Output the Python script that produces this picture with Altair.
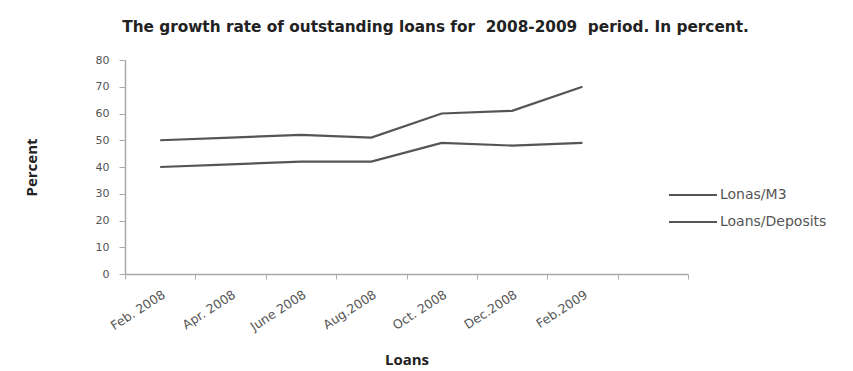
import altair as alt
import pandas as pd

months = ["Feb. 2008", "Apr. 2008", "June 2008", "Aug.2008", "Oct. 2008", "Dec.2008", "Feb.2009"]
axis_slots = months + [" "]
lonas_m3 = [40, 41, 42, 42, 49, 48, 49]
loans_deposits = [50, 51, 52, 51, 60, 61, 70]
series_names = ["Lonas/M3", "Loans/Deposits"]
title_text = "The growth rate of outstanding loans for\u00a0\u00a02008-2009\u00a0\u00a0period. In percent."

rows = []
for name, vals in zip(series_names, [lonas_m3, loans_deposits]):
    for m, v in zip(months, vals):
        rows.append({"month": m, "value": v, "series": name})
df = pd.DataFrame(rows)

chart = alt.Chart(df).mark_line(strokeWidth=2.2).encode(
    x=alt.X("month:N", sort=axis_slots,
            scale=alt.Scale(domain=axis_slots, paddingInner=0, paddingOuter=0),
            axis=alt.Axis(title="Loans", labelAngle=-33, tickBand="extent",
                          labelFont="DejaVu Sans", labelFontSize=12.5, labelColor="#555",
                          domainColor="#aaa", domainWidth=1.5, tickColor="#aaa",
                          tickSize=5, labelPadding=9,
                          titleFont="Open Sans", titleFontSize=15, titleFontWeight="bold",
                          titleColor="#222", titlePadding=20)),
    y=alt.Y("value:Q", scale=alt.Scale(domain=[0, 80]),
            axis=alt.Axis(title="Percent", values=list(range(0, 81, 10)), grid=False,
                          labelFont="DejaVu Sans", labelFontSize=11, labelColor="#555",
                          domainColor="#aaa", domainWidth=1.5, tickColor="#aaa",
                          tickSize=6, labelPadding=10,
                          titleFont="Open Sans", titleFontSize=15, titleFontWeight="bold",
                          titleColor="#222", titlePadding=56)),
    color=alt.Color("series:N", sort=series_names,
                    scale=alt.Scale(domain=series_names, range=["#555555", "#555555"]),
                    legend=alt.Legend(title=None, orient="none", legendX=543, legendY=128,
                                      symbolType="stroke", symbolSize=2300, clipHeight=14,
                                      symbolStrokeWidth=1.8, labelFont="DejaVu Sans",
                                      labelFontSize=14, labelColor="#555",
                                      rowPadding=13, labelOffset=2)),
).properties(
    width=563, height=214,
    title=alt.TitleParams(title_text,
                          font="DejaVu Sans", fontSize=15.3, fontWeight="bold", color="#222",
                          anchor="middle", dx=29, offset=19),
    autosize=alt.AutoSizeParams(type="none"),
    padding={"left": 125, "top": 60, "right": 165, "bottom": 97},
    background="white",
).configure_view(stroke=None)

chart.save("out.html", embed_options={"renderer": "svg", "actions": False})
